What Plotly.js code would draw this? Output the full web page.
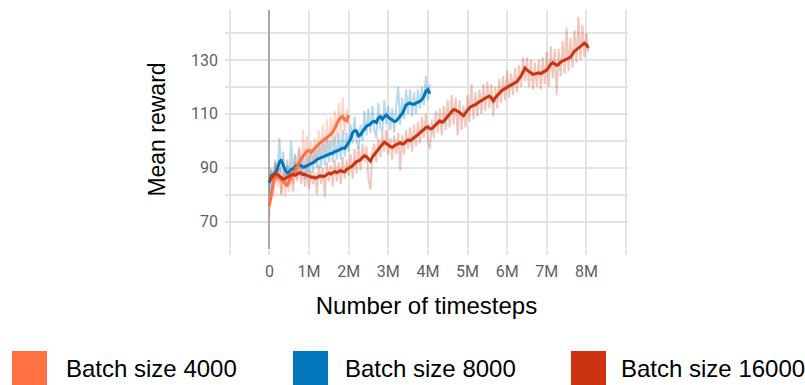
<!DOCTYPE html>
<html>
<head>
<meta charset="utf-8">
<script src="https://cdn.plot.ly/plotly-3.0.1.min.js"></script>
<style>html,body{margin:0;padding:0;background:#fff;}#chart{width:805px;height:385px;}</style>
</head>
<body>
<div id="chart"></div>
<script>
// ---- Data (timesteps in millions) ----
const seriesNames = ["Batch size 4000", "Batch size 8000", "Batch size 16000"];
const seriesColors = ["#ff7043", "#0077bb", "#cc3311"];

const x4000 = [0,0.05,0.1,0.15,0.2,0.25,0.3,0.35,0.4,0.45,0.5,0.55,0.6,0.65,0.7,0.75,0.8,0.85,0.9,0.95,
  1.0,1.05,1.1,1.15,1.2,1.25,1.3,1.35,1.4,1.45,1.5,1.55,1.6,1.65,1.7,1.75,1.8,1.85,1.9,1.95,2.0];
const smooth4000 = [75.9,80.5,84.5,86.5,87.2,86.2,85.5,84.8,84.2,83.6,85.0,86.4,88.2,89.4,90.8,92.0,93.2,94.4,95.3,96.2,
  96.4,95.8,96.5,97.4,98.2,98.9,99.5,100.1,100.5,101.2,101.6,102.4,103.2,104.8,106.3,107.8,108.6,109.0,107.8,107.4,109.6];
const raw4000 = [72,86,79,92,83,90,80,89,79,88,81,92,84,95,86,98,88,104,90,102,
  91,100,92,101,93,104,95,106,96,108,97,109,98,111,101,114,103,116,102,112,106];

const x8000 = [0,0.05,0.1,0.15,0.2,0.25,0.3,0.35,0.4,0.45,0.5,0.55,0.6,0.65,0.7,0.75,0.8,0.85,0.9,0.95,
  1.0,1.05,1.1,1.15,1.2,1.25,1.3,1.35,1.4,1.45,1.5,1.55,1.6,1.65,1.7,1.75,1.8,1.85,1.9,1.95,
  2.0,2.05,2.1,2.15,2.2,2.25,2.3,2.35,2.4,2.45,2.5,2.55,2.6,2.65,2.7,2.75,2.8,2.85,2.9,2.95,
  3.0,3.05,3.1,3.15,3.2,3.25,3.3,3.35,3.4,3.45,3.5,3.55,3.6,3.65,3.7,3.75,3.8,3.85,3.9,3.95,4.0,4.05];
const smooth8000 = [84.5,87.0,87.5,88.2,89.5,92.0,93.0,91.3,89.0,88.2,88.5,89.4,89.6,90.4,90.7,91.3,90.8,90.2,90.4,90.8,
  91.0,91.6,91.9,92.3,93.1,93.4,93.7,94.2,94.4,94.9,95.0,95.3,95.4,96.0,96.2,96.5,96.8,97.3,97.2,98.2,
  99.3,100.8,103.0,103.8,103.6,101.8,102.2,103.4,104.6,105.4,105.8,106.2,107.0,107.3,106.8,108.5,109.0,108.0,108.9,109.6,
  108.8,108.3,107.5,107.2,107.3,108.4,109.2,110.0,111.5,113.2,113.8,114.0,113.6,113.5,114.0,114.3,114.7,115.3,116.5,118.3,119.0,117.5];
const raw8000 = [80,90,84,93,86,101,88,96,85,93,86,100,87,95,88,97,87,94,86,95,
  88,97,88,98,90,99,90,100,91,101,92,100,92,102,93,103,93,104,94,103,
  96,106,99,109,100,97,106,100,111,102,112,103,113,104,101,114,105,103,115,106,
  113,104,112,103,113,120,106,116,108,119,110,119,109,118,110,119,112,120,113,124,115,121];

const x16000 = [0,0.05,0.1,0.15,0.2,0.25,0.3,0.35,0.4,0.45,0.5,0.55,0.6,0.65,0.7,0.75,0.8,0.85,0.9,0.95,
  1.0,1.05,1.1,1.15,1.2,1.25,1.3,1.35,1.4,1.45,1.5,1.55,1.6,1.65,1.7,1.75,1.8,1.85,1.9,1.95,
  2.0,2.05,2.1,2.15,2.2,2.25,2.3,2.35,2.4,2.45,2.5,2.55,2.6,2.65,2.7,2.75,2.8,2.85,2.9,2.95,
  3.0,3.05,3.1,3.15,3.2,3.25,3.3,3.35,3.4,3.45,3.5,3.55,3.6,3.65,3.7,3.75,3.8,3.85,3.9,3.95,
  4.0,4.05,4.1,4.15,4.2,4.25,4.3,4.35,4.4,4.45,4.5,4.55,4.6,4.65,4.7,4.75,4.8,4.85,4.9,4.95,
  5.0,5.05,5.1,5.15,5.2,5.25,5.3,5.35,5.4,5.45,5.5,5.55,5.6,5.65,5.7,5.75,5.8,5.85,5.9,5.95,
  6.0,6.05,6.1,6.15,6.2,6.25,6.3,6.35,6.4,6.45,6.5,6.55,6.6,6.65,6.7,6.75,6.8,6.85,6.9,6.95,
  7.0,7.05,7.1,7.15,7.2,7.25,7.3,7.35,7.4,7.45,7.5,7.55,7.6,7.65,7.7,7.75,7.8,7.85,7.9,7.95,8.0,8.05];
const smooth16000 = [86.4,86.0,87.0,87.8,87.6,86.9,86.4,85.8,86.0,86.6,87.0,87.4,87.6,87.2,87.6,88.1,88.0,87.5,87.6,87.1,
  87.0,86.5,86.6,86.2,86.4,86.9,87.0,86.7,87.0,87.6,88.0,87.7,88.2,88.6,88.2,88.7,89.0,88.6,88.5,89.4,
  90.0,90.3,90.8,91.6,92.3,92.6,93.0,93.9,94.5,94.1,93.1,92.5,94.0,95.1,96.2,96.8,97.8,98.6,99.5,99.0,
  98.4,97.9,97.6,98.2,98.6,98.9,99.3,98.8,99.0,99.8,100.3,100.0,100.5,101.0,101.5,102.3,103.0,103.6,104.4,104.9,
  105.2,104.4,104.5,105.3,106.0,106.8,107.4,106.9,107.2,108.2,109.0,109.9,110.8,111.6,111.4,111.0,110.5,109.8,109.3,110.4,
  111.5,112.2,112.8,113.0,113.4,114.0,114.6,114.9,115.4,115.8,116.3,116.6,116.0,114.8,116.0,116.9,117.7,118.4,119.0,119.3,
  119.8,120.3,120.6,121.0,121.5,122.0,122.8,124.0,125.5,127.0,126.3,125.6,125.2,124.6,124.8,125.1,125.2,124.9,125.4,125.8,
  126.2,127.2,128.4,129.0,128.5,128.0,128.3,129.2,129.6,129.9,130.3,130.6,131.0,132.2,133.3,133.8,134.4,134.9,135.4,136.2,135.6,134.4];
const raw16000 = [84,89,82,92,85,90,80,88,83,91,84,90,81,92,85,91,84,89,83,90,
  82,89,84,88,80,91,84,90,79,92,85,91,83,93,85,92,84,94,86,93,
  87,95,86,97,88,98,89,99,92,98,86,82,96,99,92,101,94,103,96,104,
  95,101,93,102,95,103,89,102,95,104,97,105,96,106,98,107,99,109,101,110,
  100,97,108,101,111,103,112,102,113,104,115,105,117,106,116,102,115,104,113,105,
  117,107,121,108,118,109,119,110,121,111,122,112,121,109,120,112,123,114,124,115,
  126,116,125,117,127,118,128,120,131,122,131,120,130,119,129,120,130,119,131,121,
  133,120,135,123,134,117,134,124,137,125,142,126,138,127,141,129,146,130,143,131,140,133];

const xTickVals = [-1,0,1,2,3,4,5,6,7,8,9];
const xTickText = ["","0","1M","2M","3M","4M","5M","6M","7M","8M",""];
const yTickVals = [60,70,80,90,100,110,120,130,140];
const yTickText = ["","70","","90","","110","","130",""];

// ---- Traces ----
const xs = [x4000, x8000, x16000];
const smooths = [smooth4000, smooth8000, smooth16000];
const raws = [raw4000, raw8000, raw16000];

const traces = [];
// raw (faded) traces first
[2,1,0].forEach(i => {
  traces.push({
    x: xs[i], y: raws[i], type: "scatter", mode: "lines",
    line: {color: seriesColors[i], width: 2},
    opacity: 0.28, hoverinfo: "skip", showlegend: false
  });
});
// smoothed traces
[1,0,2].forEach(i => {
  traces.push({
    x: xs[i], y: smooths[i], type: "scatter", mode: "lines",
    name: seriesNames[i],
    line: {color: seriesColors[i], width: 3},
    showlegend: false
  });
});

// ---- Layout ----
const W = 805, H = 385;
const M = {l: 225, r: 177, t: 10, b: 136};
const plotW = W - M.l - M.r, plotH = H - M.t - M.b;
const px = v => (v - M.l) / plotW;
const py = v => (H - M.b - v) / plotH;

const legendBoxes = [
  {x0: 12, x1: 47},
  {x0: 293, x1: 328},
  {x0: 571, x1: 606}
];
const legendTextX = [64, 343, 619];

const shapes = legendBoxes.map((b, i) => ({
  type: "rect", xref: "paper", yref: "paper",
  x0: px(b.x0), x1: px(b.x1), y0: py(351), y1: py(387),
  fillcolor: seriesColors[i], line: {width: 0}
}));
const annotations = seriesNames.map((n, i) => ({
  text: n, xref: "paper", yref: "paper",
  x: px(legendTextX[i]), y: py(368), xanchor: "left", yanchor: "middle",
  showarrow: false,
  font: {family: "Liberation Sans, Arial, sans-serif", size: 24, color: "#000"}
}));

const gridColor = "#e3e3e3";
const layout = {
  width: W, height: H,
  margin: M,
  paper_bgcolor: "#fff", plot_bgcolor: "#fff",
  showlegend: false,
  xaxis: {
    range: [-1.12, 9.05],
    tickmode: "array", tickvals: xTickVals, ticktext: xTickText,
    showgrid: true, gridcolor: gridColor, gridwidth: 2,
    zeroline: true, zerolinecolor: "#a8a8a8", zerolinewidth: 2,
    ticks: "outside", ticklen: 5, tickwidth: 2, tickcolor: gridColor,
    ticklabelstandoff: 3,
    showline: false,
    tickfont: {family: "Roboto, sans-serif", size: 16, color: "#5f5f5f"},
    title: {text: "Number of timesteps", standoff: 16,
      font: {family: "Liberation Sans, Arial, sans-serif", size: 24, color: "#000"}},
    fixedrange: true
  },
  yaxis: {
    range: [59.9, 148.5],
    tickmode: "array", tickvals: yTickVals, ticktext: yTickText,
    showgrid: true, gridcolor: gridColor, gridwidth: 2,
    zeroline: false, showline: false,
    ticks: "",
    ticklabelstandoff: 6,
    tickfont: {family: "Roboto, sans-serif", size: 16, color: "#5f5f5f"},
    title: {text: "Mean reward", standoff: 18,
      font: {family: "Liberation Sans, Arial, sans-serif", size: 23, color: "#000"}},
    fixedrange: true
  },
  shapes: shapes,
  annotations: annotations
};

Plotly.newPlot("chart", traces, layout, {staticPlot: true, displayModeBar: false});
</script>
</body>
</html>
